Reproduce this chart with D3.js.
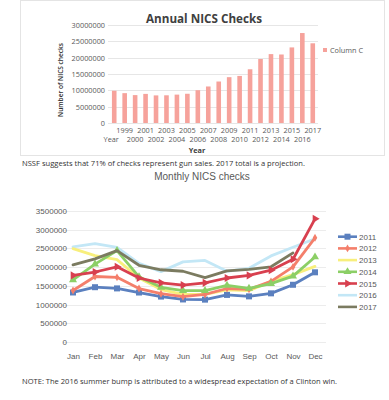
<!DOCTYPE html>
<html><head><meta charset="utf-8">
<script src="https://cdn.jsdelivr.net/npm/d3@7"></script>
<style>body{margin:0;background:#fff}svg{display:block}</style>
</head><body>
<svg id="c" width="389" height="400"></svg>
<script>
// ---- Annual data ----
const years = ["Year","1999","2000","2001","2002","2003","2004","2005","2006","2007","2008","2009","2010","2011","2012","2013","2014","2015","2016","2017"];
const annualChecks = [9870000,9140000,8540000,8910000,8450000,8480000,8690000,8950000,10040000,11180000,12700000,14030000,14410000,16450000,19590000,21090000,20970000,23140000,27540000,24400000];
const annualTicks = [0,5000000,10000000,15000000,20000000,25000000,30000000];

// ---- Monthly data ----
const months = ["Jan","Feb","Mar","Apr","May","Jun","Jul","Aug","Sep","Oct","Nov","Dec"];
const seriesNames = ["2011","2012","2013","2014","2015","2016","2017"];
const s2011 = [1323000,1464000,1432000,1322000,1214000,1137000,1132000,1258000,1219000,1300000,1529000,1862000];
const s2012 = [1377000,1750000,1728000,1428000,1290000,1210000,1270000,1430000,1410000,1620000,2007000,2784000];
const s2013 = [2495000,2310000,2200000,1710000,1400000,1270000,1270000,1390000,1370000,1620000,1800000,2020000];
const s2014 = [1660000,2080000,2440000,1740000,1460000,1370000,1370000,1510000,1430000,1560000,1760000,2270000];
const s2015 = [1780000,1870000,2010000,1710000,1580000,1520000,1580000,1710000,1780000,1920000,2210000,3290000];
const s2016 = [2540000,2630000,2530000,2100000,1880000,2140000,2180000,1890000,1970000,2300000,2530000,2760000];
const s2017 = [2060000,2220000,2440000,2050000,1930000,1890000,1720000,1900000,1940000,2010000,2380000,null];
const monthlyTicks = [0,500000,1000000,1500000,2000000,2500000,3000000,3500000];
const seriesColors = ["#5b80bf","#f47f6b","#f8ef7c","#8ccf66","#d8404f","#c3e7f6","#7b7b60"];
const seriesMarkers = ["square","diamond","none","triangle","triright","none","xstar"];

const svg = d3.select("#c");
const txt = "#595959";

// frame
svg.append("rect").attr("x",20.5).attr("y",0.5).attr("width",364).attr("height",155)
  .attr("fill","none").attr("stroke","#e4e4e4");

// ===== Annual chart =====
const yA = d3.scaleLinear().domain([0,30000000]).range([123,25]);
const xA = d3.scaleBand().domain(years).range([109,318]).paddingInner(0.56).paddingOuter(0.28);

const gA = svg.append("g");
gA.selectAll("line.grid").data(annualTicks).join("line")
  .attr("x1",108).attr("x2",318)
  .attr("y1",d=>Math.round(yA(d))+0.5).attr("y2",d=>Math.round(yA(d))+0.5)
  .attr("stroke","#e6e6e6");
const yAxisA = d3.axisLeft(yA).tickValues(annualTicks).tickSize(0).tickPadding(0).tickFormat(d3.format("d"));
gA.append("g").attr("transform","translate(105,0)").call(yAxisA)
  .call(g=>g.select(".domain").remove())
  .selectAll("text").attr("fill",txt).attr("font-family","Open Sans").attr("font-size",7.3);

gA.selectAll("rect.bar").data(annualChecks).join("rect")
  .attr("x",(d,i)=>xA(years[i])).attr("width",xA.bandwidth())
  .attr("y",d=>yA(d)).attr("height",d=>yA(0)-yA(d)).attr("fill","#f6a29b");

gA.selectAll("text.xl").data(years).join("text")
  .attr("x",d=>xA(d)+xA.bandwidth()/2+ ( d==="Year" ? -3 : 0))
  .attr("y",(d,i)=> i%2===1 ? 132.5 : 141.5)
  .attr("text-anchor","middle").attr("fill",txt)
  .attr("font-family","Open Sans").attr("font-size",7.3).text(d=>d);

gA.append("text").attr("x",197).attr("y",152.5).attr("text-anchor","middle")
  .attr("fill","#404040").attr("font-family","Open Sans").attr("font-weight","bold")
  .attr("font-size",7.3).text("Year");
gA.append("text").attr("transform","translate(62.5,80) rotate(-90)").attr("text-anchor","middle")
  .attr("fill","#333333").attr("font-family","Open Sans").attr("font-weight","600")
  .attr("font-size",7).attr("textLength",74).attr("lengthAdjust","spacingAndGlyphs").text("Number of NICS checks");
gA.append("text").attr("x",204).attr("y",23).attr("text-anchor","middle")
  .attr("fill","#404040").attr("font-family","Open Sans").attr("font-weight","bold")
  .attr("font-size",13).attr("textLength",116).attr("lengthAdjust","spacingAndGlyphs").text("Annual NICS Checks");
gA.append("rect").attr("x",323).attr("y",48).attr("width",4).attr("height",4).attr("fill","#f6a29b");
gA.append("text").attr("x",330).attr("y",52.5).attr("fill",txt).attr("font-family","Open Sans")
  .attr("font-size",7.3).text("Column C");

svg.append("text").attr("x",22).attr("y",165.5).attr("fill","#333333").attr("font-family","Open Sans")
  .attr("font-size",7.6).attr("textLength",283).attr("lengthAdjust","spacingAndGlyphs")
  .text("NSSF suggests that 71% of checks represent gun sales. 2017 total is a projection.");

// ===== Monthly chart =====
const yM = d3.scaleLinear().domain([0,3500000]).range([342,211]);
const xM = d3.scalePoint().domain(months).range([73,315]);
const gM = svg.append("g");
gM.append("text").attr("x",202).attr("y",180).attr("text-anchor","middle").attr("fill",txt)
  .attr("font-family","Liberation Sans").attr("font-size",10).text("Monthly NICS checks");
gM.selectAll("line.grid").data(monthlyTicks).join("line")
  .attr("x1",63).attr("x2",326)
  .attr("y1",d=>Math.round(yM(d))+0.5).attr("y2",d=>Math.round(yM(d))+0.5)
  .attr("stroke","#ececec");
gM.append("g").attr("transform","translate(67,0)")
  .call(d3.axisLeft(yM).tickValues(monthlyTicks).tickSize(0).tickPadding(0).tickFormat(d3.format("d")))
  .call(g=>g.select(".domain").remove())
  .selectAll("text").attr("fill",txt).attr("font-family","Liberation Sans").attr("font-size",8);
gM.append("g").attr("transform","translate(0,349)")
  .call(d3.axisBottom(xM).tickSize(0).tickPadding(4))
  .call(g=>g.select(".domain").remove())
  .selectAll("text").attr("fill",txt).attr("font-family","Liberation Sans").attr("font-size",8);

const allSeries = [s2011,s2012,s2013,s2014,s2015,s2016,s2017];
const line = d3.line().defined(d=>d!=null).x((d,i)=>xM(months[i])).y(d=>yM(d));
const lineOrder = [5,2,0,1,3,6,4];

function marker(g, type, color, x, y){
  if(type==="square") g.append("rect").attr("x",x-3).attr("y",y-3).attr("width",6).attr("height",6).attr("fill",color);
  else if(type==="diamond") g.append("path").attr("d",d3.symbol(d3.symbolDiamond,18)()).attr("transform",`translate(${x},${y})`).attr("fill",color);
  else if(type==="triangle") g.append("path").attr("d",d3.symbol(d3.symbolTriangle,28)()).attr("transform",`translate(${x},${y})`).attr("fill",color);
  else if(type==="triright") g.append("path").attr("d",d3.symbol(d3.symbolTriangle,28)()).attr("transform",`translate(${x},${y}) rotate(90)`).attr("fill",color);
  else if(type==="xstar") g.append("path").attr("d",d3.symbol(d3.symbolTimes,20)()).attr("transform",`translate(${x},${y})`).attr("fill",color);
}

lineOrder.forEach(k=>{
  const data = allSeries[k];
  const g = gM.append("g");
  g.append("path").attr("d",line(data)).attr("fill","none").attr("stroke",seriesColors[k])
    .attr("stroke-width",2.8).attr("stroke-linejoin","round").attr("stroke-linecap","round");
  data.forEach((d,i)=>{ if(d!=null) marker(g, seriesMarkers[k], seriesColors[k], xM(months[i]), yM(d)); });
});

// legend
const leg = gM.append("g");
seriesNames.forEach((n,k)=>{
  const y = 236.7 + k*11.7;
  leg.append("line").attr("x1",338).attr("x2",357).attr("y1",y).attr("y2",y)
    .attr("stroke",seriesColors[k]).attr("stroke-width",2.6);
  marker(leg, seriesMarkers[k], seriesColors[k], 347.5, y);
  leg.append("text").attr("x",359).attr("y",y+3).attr("fill",txt)
    .attr("font-family","Liberation Sans").attr("font-size",8).text(n);
});

svg.append("text").attr("x",22).attr("y",383.5).attr("fill","#333333").attr("font-family","Open Sans")
  .attr("font-size",7.6).attr("textLength",315).attr("lengthAdjust","spacingAndGlyphs")
  .text("NOTE: The 2016 summer bump is attributed to a widespread expectation of a Clinton win.");
</script>
</body></html>
